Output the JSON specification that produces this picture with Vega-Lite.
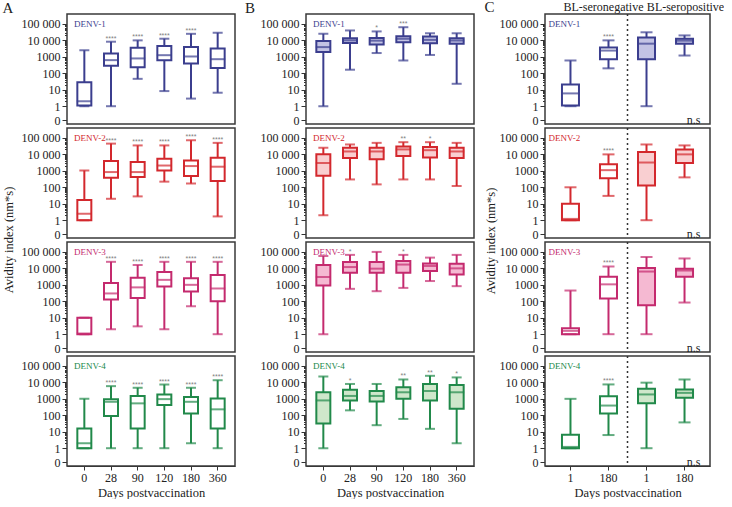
{
  "$schema": "https://vega.github.io/schema/vega-lite/v6.json",
  "padding": {"left": 2, "top": 0, "right": 0, "bottom": 0},
  "spacing": 9,
  "datasets": {
    "A": [
      {"virus": "DENV-1", "day": 0, "min": 1, "q1": 1.1, "median": 2, "q3": 29, "max": 2500, "sig": ""},
      {"virus": "DENV-1", "day": 28, "min": 1, "q1": 290, "median": 630, "q3": 1600, "max": 8300, "sig": "****"},
      {"virus": "DENV-1", "day": 90, "min": 46, "q1": 230, "median": 800, "q3": 3600, "max": 10000, "sig": "****"},
      {"virus": "DENV-1", "day": 120, "min": 8.3, "q1": 630, "median": 1260, "q3": 4600, "max": 12600, "sig": "****"},
      {"virus": "DENV-1", "day": 180, "min": 2.9, "q1": 400, "median": 1050, "q3": 4000, "max": 25000, "sig": "****"},
      {"virus": "DENV-1", "day": 360, "min": 6.6, "q1": 210, "median": 720, "q3": 3200, "max": 29000, "sig": ""},
      {"virus": "DENV-2", "day": 0, "min": 1, "q1": 1, "median": 2.5, "q3": 17, "max": 1050, "sig": ""},
      {"virus": "DENV-2", "day": 28, "min": 20, "q1": 380, "median": 840, "q3": 3900, "max": 45000, "sig": "****"},
      {"virus": "DENV-2", "day": 90, "min": 28, "q1": 420, "median": 840, "q3": 3400, "max": 35000, "sig": "****"},
      {"virus": "DENV-2", "day": 120, "min": 220, "q1": 1050, "median": 2100, "q3": 5400, "max": 35000, "sig": "****"},
      {"virus": "DENV-2", "day": 180, "min": 170, "q1": 480, "median": 1950, "q3": 4300, "max": 72000, "sig": "****"},
      {"virus": "DENV-2", "day": 360, "min": 1.7, "q1": 240, "median": 1780, "q3": 6200, "max": 50000, "sig": "****"},
      {"virus": "DENV-3", "day": 0, "min": 1, "q1": 1, "median": 1.1, "q3": 10, "max": 10, "sig": ""},
      {"virus": "DENV-3", "day": 28, "min": 2, "q1": 130, "median": 300, "q3": 1300, "max": 25000, "sig": "****"},
      {"virus": "DENV-3", "day": 90, "min": 3, "q1": 160, "median": 700, "q3": 2700, "max": 16000, "sig": "****"},
      {"virus": "DENV-3", "day": 120, "min": 2, "q1": 800, "median": 2000, "q3": 6000, "max": 25000, "sig": "****"},
      {"virus": "DENV-3", "day": 180, "min": 50, "q1": 400, "median": 1000, "q3": 2500, "max": 25000, "sig": "****"},
      {"virus": "DENV-3", "day": 360, "min": 1, "q1": 100, "median": 600, "q3": 4000, "max": 25000, "sig": "****"},
      {"virus": "DENV-4", "day": 0, "min": 1, "q1": 1, "median": 2, "q3": 16, "max": 1000, "sig": ""},
      {"virus": "DENV-4", "day": 28, "min": 1, "q1": 90, "median": 660, "q3": 950, "max": 5900, "sig": "****"},
      {"virus": "DENV-4", "day": 90, "min": 1, "q1": 16, "median": 530, "q3": 1500, "max": 4700, "sig": "****"},
      {"virus": "DENV-4", "day": 120, "min": 1, "q1": 420, "median": 960, "q3": 1850, "max": 7400, "sig": "****"},
      {"virus": "DENV-4", "day": 180, "min": 2, "q1": 130, "median": 660, "q3": 1300, "max": 4700, "sig": "****"},
      {"virus": "DENV-4", "day": 360, "min": 1, "q1": 16, "median": 230, "q3": 1050, "max": 13500, "sig": "****"}
    ],
    "B": [
      {"virus": "DENV-1", "day": 0, "min": 1, "q1": 1950, "median": 3900, "q3": 9000, "max": 25000, "sig": ""},
      {"virus": "DENV-1", "day": 28, "min": 165, "q1": 7000, "median": 10000, "q3": 13500, "max": 40000, "sig": ""},
      {"virus": "DENV-1", "day": 90, "min": 1700, "q1": 5600, "median": 9600, "q3": 14000, "max": 35000, "sig": "*"},
      {"virus": "DENV-1", "day": 120, "min": 600, "q1": 7800, "median": 12500, "q3": 18000, "max": 63000, "sig": "***"},
      {"virus": "DENV-1", "day": 180, "min": 1300, "q1": 6800, "median": 10700, "q3": 17000, "max": 27000, "sig": ""},
      {"virus": "DENV-1", "day": 360, "min": 23, "q1": 6300, "median": 9800, "q3": 13500, "max": 27000, "sig": ""},
      {"virus": "DENV-2", "day": 0, "min": 2, "q1": 500, "median": 3000, "q3": 10000, "max": 25000, "sig": ""},
      {"virus": "DENV-2", "day": 28, "min": 300, "q1": 6000, "median": 15000, "q3": 25000, "max": 40000, "sig": ""},
      {"virus": "DENV-2", "day": 90, "min": 150, "q1": 5000, "median": 15000, "q3": 25000, "max": 50000, "sig": ""},
      {"virus": "DENV-2", "day": 120, "min": 300, "q1": 8000, "median": 20000, "q3": 30000, "max": 55000, "sig": "**"},
      {"virus": "DENV-2", "day": 180, "min": 300, "q1": 6500, "median": 18000, "q3": 28000, "max": 55000, "sig": "*"},
      {"virus": "DENV-2", "day": 360, "min": 120, "q1": 6000, "median": 15000, "q3": 25000, "max": 50000, "sig": ""},
      {"virus": "DENV-3", "day": 0, "min": 1, "q1": 900, "median": 3000, "q3": 16000, "max": 56000, "sig": ""},
      {"virus": "DENV-3", "day": 28, "min": 570, "q1": 5400, "median": 12000, "q3": 24000, "max": 66000, "sig": "*"},
      {"virus": "DENV-3", "day": 90, "min": 410, "q1": 5400, "median": 9600, "q3": 24000, "max": 100000, "sig": ""},
      {"virus": "DENV-3", "day": 120, "min": 650, "q1": 5400, "median": 17000, "q3": 28000, "max": 66000, "sig": "*"},
      {"virus": "DENV-3", "day": 180, "min": 1700, "q1": 6900, "median": 14000, "q3": 20000, "max": 45000, "sig": ""},
      {"virus": "DENV-3", "day": 360, "min": 830, "q1": 4300, "median": 10000, "q3": 19000, "max": 66000, "sig": ""},
      {"virus": "DENV-4", "day": 0, "min": 1, "q1": 32, "median": 800, "q3": 2500, "max": 23000, "sig": ""},
      {"virus": "DENV-4", "day": 28, "min": 200, "q1": 800, "median": 1500, "q3": 3500, "max": 8000, "sig": "*"},
      {"virus": "DENV-4", "day": 90, "min": 25, "q1": 700, "median": 1500, "q3": 3000, "max": 8000, "sig": ""},
      {"virus": "DENV-4", "day": 120, "min": 60, "q1": 1000, "median": 2500, "q3": 5000, "max": 15000, "sig": "**"},
      {"virus": "DENV-4", "day": 180, "min": 15, "q1": 800, "median": 3000, "q3": 8000, "max": 25000, "sig": "**"},
      {"virus": "DENV-4", "day": 360, "min": 2, "q1": 250, "median": 2500, "q3": 7000, "max": 20000, "sig": "*"}
    ],
    "C": [
      {"virus": "DENV-1", "cat": "neg 1", "min": 1, "q1": 1.1, "median": 6, "q3": 21, "max": 600, "sig": ""},
      {"virus": "DENV-1", "cat": "neg 180", "min": 200, "q1": 720, "median": 2400, "q3": 3700, "max": 10000, "sig": "****"},
      {"virus": "DENV-1", "cat": "pos 1", "min": 1, "q1": 720, "median": 6300, "q3": 15000, "max": 31000, "sig": ""},
      {"virus": "DENV-1", "cat": "pos 180", "min": 1200, "q1": 6300, "median": 9600, "q3": 12600, "max": 20000, "sig": ""},
      {"virus": "DENV-2", "cat": "neg 1", "min": 1, "q1": 1, "median": 1.2, "q3": 10, "max": 100, "sig": ""},
      {"virus": "DENV-2", "cat": "neg 180", "min": 30, "q1": 350, "median": 1100, "q3": 2500, "max": 10000, "sig": "****"},
      {"virus": "DENV-2", "cat": "pos 1", "min": 1, "q1": 130, "median": 3200, "q3": 14000, "max": 40000, "sig": ""},
      {"virus": "DENV-2", "cat": "pos 180", "min": 400, "q1": 3000, "median": 10000, "q3": 20000, "max": 35000, "sig": ""},
      {"virus": "DENV-3", "cat": "neg 1", "min": 1, "q1": 1, "median": 1.6, "q3": 2.3, "max": 450, "sig": ""},
      {"virus": "DENV-3", "cat": "neg 180", "min": 1, "q1": 150, "median": 1070, "q3": 3100, "max": 13000, "sig": "****"},
      {"virus": "DENV-3", "cat": "pos 1", "min": 1, "q1": 57, "median": 6400, "q3": 10400, "max": 49000, "sig": ""},
      {"virus": "DENV-3", "cat": "pos 180", "min": 84, "q1": 3100, "median": 7400, "q3": 9400, "max": 40000, "sig": ""},
      {"virus": "DENV-4", "cat": "neg 1", "min": 1, "q1": 1, "median": 1.2, "q3": 6.6, "max": 1000, "sig": ""},
      {"virus": "DENV-4", "cat": "neg 180", "min": 6.3, "q1": 130, "median": 390, "q3": 1450, "max": 7500, "sig": "****"},
      {"virus": "DENV-4", "cat": "pos 1", "min": 1, "q1": 540, "median": 1850, "q3": 4100, "max": 9600, "sig": ""},
      {"virus": "DENV-4", "cat": "pos 180", "min": 37, "q1": 1150, "median": 2300, "q3": 3700, "max": 15000, "sig": ""}
    ]
  },
  "hconcat": [
    {
      "data": {"name": "A"},
      "title": {"text": "A", "anchor": "start", "frame": "bounds", "offset": -3},
      "facet": {"row": {"field": "virus", "type": "nominal", "title": "Avidity index (nm*s)", "header": {"labels": false, "titlePadding": -4}}},
      "spacing": 4,
      "bounds": "flush",
      "spec": {
        "width": 168, "height": 110,
        "layer": [
          {"mark": {"type": "rule", "strokeWidth": 2},
           "encoding": {
             "x": {"field": "day", "type": "ordinal", "title": "Days postvaccination",
               "scale": {"domain": [0, 28, 90, 120, 180, 360], "paddingInner": 0, "paddingOuter": 0.15},
               "axis": {"orient": "bottom", "title": "Days postvaccination", "labelFont": "Liberation Serif", "titleFont": "Liberation Serif"}},
             "y": {"field": "min", "type": "quantitative", "title": null,
               "scale": {"type": "log", "domain": [0.083, 400000], "nice": false},
               "axis": {"labelFont": "Liberation Serif", "values": [0.145, 1, 2, 3, 4, 5, 6, 7, 8, 9, 10, 20, 30, 40, 50, 60, 70, 80, 90, 100, 200, 300, 400, 500, 600, 700, 800, 900, 1000, 2000, 3000, 4000, 5000, 6000, 7000, 8000, 9000, 10000, 20000, 30000, 40000, 50000, 60000, 70000, 80000, 90000, 100000],
                 "labelExpr": "datum.value < 0.5 ? '0' : datum.value == 100000 ? '100 000' : datum.value == 10000 ? '10 000' : datum.value == 1000 ? '1000' : datum.value == 100 ? '100' : datum.value == 10 ? '10' : datum.value == 1 ? '1' : ''",
                 "tickSize": {"condition": {"test": "datum.value < 0.5 || indexof([1, 10, 100, 1000, 10000, 100000], datum.value) >= 0", "value": 5}, "value": 2.5}}},
             "y2": {"field": "max"},
             "stroke": {"field": "virus", "type": "nominal", "legend": null, "scale": {"domain": ["DENV-1", "DENV-2", "DENV-3", "DENV-4"], "range": ["#3b3e8e", "#d3282d", "#c42a6e", "#21894a"]}}
           }},
          {"mark": {"type": "bar", "size": 14, "strokeWidth": 2},
           "encoding": {
             "x": {"field": "day", "type": "ordinal", "axis": null},
             "y": {"field": "q1", "type": "quantitative", "title": null},
             "y2": {"field": "q3"},
             "stroke": {"field": "virus", "type": "nominal", "legend": null},
             "fill": {"value": "white"}
           }},
          {"mark": {"type": "tick", "size": 10, "thickness": 2},
           "encoding": {"x": {"field": "day", "type": "ordinal", "axis": null},
             "y": {"field": "max", "type": "quantitative", "title": null},
             "color": {"field": "virus", "type": "nominal", "legend": null, "scale": {"domain": ["DENV-1", "DENV-2", "DENV-3", "DENV-4"], "range": ["#3b3e8e", "#d3282d", "#c42a6e", "#21894a"]}}}},
          {"mark": {"type": "tick", "size": 10, "thickness": 2},
           "encoding": {"x": {"field": "day", "type": "ordinal", "axis": null},
             "y": {"field": "min", "type": "quantitative", "title": null},
             "color": {"field": "virus", "type": "nominal", "legend": null}}},
          {"mark": {"type": "tick", "size": 15, "thickness": 2},
           "encoding": {"x": {"field": "day", "type": "ordinal", "axis": null},
             "y": {"field": "median", "type": "quantitative", "title": null},
             "color": {"field": "virus", "type": "nominal", "legend": null}}},
          {"mark": {"type": "text", "font": "Liberation Sans", "fontSize": 7, "color": "#808080", "baseline": "alphabetic", "dy": -1},
           "encoding": {"x": {"field": "day", "type": "ordinal", "axis": null},
             "y": {"field": "max", "type": "quantitative", "title": null}, "text": {"field": "sig"}}},
          {"transform": [{"filter": "datum.day == 0"}],
           "mark": {"type": "text", "align": "left", "baseline": "middle", "fontSize": 9, "font": "Liberation Serif", "dx": 3},
           "encoding": {
             "x": {"field": "day", "type": "ordinal", "bandPosition": 0, "axis": {"orient": "top", "labels": false, "ticks": false, "domain": false, "title": null}},
             "y": {"datum": 100000, "type": "quantitative"},
             "text": {"field": "virus"},
             "color": {"field": "virus", "type": "nominal", "legend": null}}}
        ]
      }
    },
    {
      "data": {"name": "B"},
      "title": {"text": "B", "anchor": "start", "frame": "bounds", "offset": -3, "dx": -15},
      "facet": {"row": {"field": "virus", "type": "nominal", "title": null, "header": {"labels": false}}},
      "spacing": 4,
      "bounds": "flush",
      "spec": {
        "width": 168, "height": 110,
        "layer": [
          {"mark": {"type": "rule", "strokeWidth": 2},
           "encoding": {
             "x": {"field": "day", "type": "ordinal", "title": "Days postvaccination",
               "scale": {"domain": [0, 28, 90, 120, 180, 360], "paddingInner": 0, "paddingOuter": 0.15},
               "axis": {"orient": "bottom", "title": "Days postvaccination", "labelFont": "Liberation Serif", "titleFont": "Liberation Serif"}},
             "y": {"field": "min", "type": "quantitative", "title": null,
               "scale": {"type": "log", "domain": [0.083, 400000], "nice": false},
               "axis": {"labelFont": "Liberation Serif", "values": [0.145, 1, 2, 3, 4, 5, 6, 7, 8, 9, 10, 20, 30, 40, 50, 60, 70, 80, 90, 100, 200, 300, 400, 500, 600, 700, 800, 900, 1000, 2000, 3000, 4000, 5000, 6000, 7000, 8000, 9000, 10000, 20000, 30000, 40000, 50000, 60000, 70000, 80000, 90000, 100000],
                 "labelExpr": "datum.value < 0.5 ? '0' : datum.value == 100000 ? '100 000' : datum.value == 10000 ? '10 000' : datum.value == 1000 ? '1000' : datum.value == 100 ? '100' : datum.value == 10 ? '10' : datum.value == 1 ? '1' : ''",
                 "tickSize": {"condition": {"test": "datum.value < 0.5 || indexof([1, 10, 100, 1000, 10000, 100000], datum.value) >= 0", "value": 5}, "value": 2.5}}},
             "y2": {"field": "max"},
             "stroke": {"field": "virus", "type": "nominal", "legend": null, "scale": {"domain": ["DENV-1", "DENV-2", "DENV-3", "DENV-4"], "range": ["#3b3e8e", "#d3282d", "#c42a6e", "#21894a"]}}
           }},
          {"mark": {"type": "bar", "size": 14, "strokeWidth": 2},
           "encoding": {
             "x": {"field": "day", "type": "ordinal", "axis": null},
             "y": {"field": "q1", "type": "quantitative", "title": null},
             "y2": {"field": "q3"},
             "stroke": {"field": "virus", "type": "nominal", "legend": null},
             "fill": {"field": "virus", "type": "nominal", "legend": null, "scale": {"domain": ["DENV-1", "DENV-2", "DENV-3", "DENV-4"], "range": ["#c3c3e4", "#f9cfd1", "#f5b9d2", "#cfe7cb"]}}
           }},
          {"mark": {"type": "tick", "size": 10, "thickness": 2},
           "encoding": {"x": {"field": "day", "type": "ordinal", "axis": null},
             "y": {"field": "max", "type": "quantitative", "title": null},
             "color": {"field": "virus", "type": "nominal", "legend": null, "scale": {"domain": ["DENV-1", "DENV-2", "DENV-3", "DENV-4"], "range": ["#3b3e8e", "#d3282d", "#c42a6e", "#21894a"]}}}},
          {"mark": {"type": "tick", "size": 10, "thickness": 2},
           "encoding": {"x": {"field": "day", "type": "ordinal", "axis": null},
             "y": {"field": "min", "type": "quantitative", "title": null},
             "color": {"field": "virus", "type": "nominal", "legend": null}}},
          {"mark": {"type": "tick", "size": 15, "thickness": 2},
           "encoding": {"x": {"field": "day", "type": "ordinal", "axis": null},
             "y": {"field": "median", "type": "quantitative", "title": null},
             "color": {"field": "virus", "type": "nominal", "legend": null}}},
          {"mark": {"type": "text", "font": "Liberation Sans", "fontSize": 7, "color": "#808080", "baseline": "alphabetic", "dy": -1},
           "encoding": {"x": {"field": "day", "type": "ordinal", "axis": null},
             "y": {"field": "max", "type": "quantitative", "title": null}, "text": {"field": "sig"}}},
          {"transform": [{"filter": "datum.day == 0"}],
           "mark": {"type": "text", "align": "left", "baseline": "middle", "fontSize": 9, "font": "Liberation Serif", "dx": 3},
           "encoding": {
             "x": {"field": "day", "type": "ordinal", "bandPosition": 0, "axis": {"orient": "top", "labels": false, "ticks": false, "domain": false, "title": null}},
             "y": {"datum": 100000, "type": "quantitative"},
             "text": {"field": "virus"},
             "color": {"field": "virus", "type": "nominal", "legend": null}}}
        ]
      }
    },
    {
      "data": {"name": "C"},
      "title": {"text": "C", "anchor": "start", "frame": "bounds", "offset": -15},
      "facet": {"row": {"field": "virus", "type": "nominal", "title": "Avidity index (nm*s)", "header": {"labels": false, "titlePadding": -8}}},
      "spacing": 4,
      "bounds": "flush",
      "spec": {
        "width": 165, "height": 110,
        "layer": [
          {"mark": {"type": "rule", "strokeWidth": 2},
           "encoding": {
             "x": {"field": "cat", "type": "nominal", "title": "Days postvaccination",
               "scale": {"domain": ["neg 1", "neg 180", "pos 1", "pos 180"], "paddingInner": 0, "paddingOuter": 0.17},
               "axis": {"orient": "bottom", "title": "Days postvaccination", "labelExpr": "split(datum.value, ' ')[1]", "labelFont": "Liberation Serif", "titleFont": "Liberation Serif"}},
             "y": {"field": "min", "type": "quantitative", "title": null,
               "scale": {"type": "log", "domain": [0.083, 400000], "nice": false},
               "axis": {"labelFont": "Liberation Serif", "values": [0.145, 1, 2, 3, 4, 5, 6, 7, 8, 9, 10, 20, 30, 40, 50, 60, 70, 80, 90, 100, 200, 300, 400, 500, 600, 700, 800, 900, 1000, 2000, 3000, 4000, 5000, 6000, 7000, 8000, 9000, 10000, 20000, 30000, 40000, 50000, 60000, 70000, 80000, 90000, 100000],
                 "labelExpr": "datum.value < 0.5 ? '0' : datum.value == 100000 ? '100 000' : datum.value == 10000 ? '10 000' : datum.value == 1000 ? '1000' : datum.value == 100 ? '100' : datum.value == 10 ? '10' : datum.value == 1 ? '1' : ''",
                 "tickSize": {"condition": {"test": "datum.value < 0.5 || indexof([1, 10, 100, 1000, 10000, 100000], datum.value) >= 0", "value": 5}, "value": 2.5}}},
             "y2": {"field": "max"},
             "stroke": {"field": "virus", "type": "nominal", "legend": null, "scale": {"domain": ["DENV-1", "DENV-2", "DENV-3", "DENV-4"], "range": ["#3b3e8e", "#d3282d", "#c42a6e", "#21894a"]}}
           }},
          {"mark": {"type": "bar", "size": 17, "strokeWidth": 2},
           "encoding": {
             "x": {"field": "cat", "type": "nominal", "axis": null},
             "y": {"field": "q1", "type": "quantitative", "title": null},
             "y2": {"field": "q3"},
             "stroke": {"field": "virus", "type": "nominal", "legend": null},
             "fill": {"condition": {"test": "indexof(datum.cat, 'pos') == 0", "field": "virus", "type": "nominal", "legend": null, "scale": {"domain": ["DENV-1", "DENV-2", "DENV-3", "DENV-4"], "range": ["#c3c3e4", "#f9cfd1", "#f5b9d2", "#cfe7cb"]}}, "value": "white"}
           }},
          {"mark": {"type": "tick", "size": 12, "thickness": 2},
           "encoding": {"x": {"field": "cat", "type": "nominal", "axis": null},
             "y": {"field": "max", "type": "quantitative", "title": null},
             "color": {"field": "virus", "type": "nominal", "legend": null, "scale": {"domain": ["DENV-1", "DENV-2", "DENV-3", "DENV-4"], "range": ["#3b3e8e", "#d3282d", "#c42a6e", "#21894a"]}}}},
          {"mark": {"type": "tick", "size": 12, "thickness": 2},
           "encoding": {"x": {"field": "cat", "type": "nominal", "axis": null},
             "y": {"field": "min", "type": "quantitative", "title": null},
             "color": {"field": "virus", "type": "nominal", "legend": null}}},
          {"mark": {"type": "tick", "size": 18, "thickness": 2},
           "encoding": {"x": {"field": "cat", "type": "nominal", "axis": null},
             "y": {"field": "median", "type": "quantitative", "title": null},
             "color": {"field": "virus", "type": "nominal", "legend": null}}},
          {"mark": {"type": "text", "font": "Liberation Sans", "fontSize": 7, "color": "#808080", "baseline": "alphabetic", "dy": -1},
           "encoding": {"x": {"field": "cat", "type": "nominal", "axis": null},
             "y": {"field": "max", "type": "quantitative", "title": null}, "text": {"field": "sig"}}},
          {"transform": [{"filter": "datum.cat == 'neg 1'"}],
           "mark": {"type": "text", "align": "left", "baseline": "middle", "fontSize": 9, "font": "Liberation Serif", "dx": -3},
           "encoding": {
             "x": {"field": "cat", "type": "nominal", "bandPosition": 0, "axis": null},
             "y": {"datum": 100000, "type": "quantitative"},
             "text": {"field": "virus"},
             "color": {"field": "virus", "type": "nominal", "legend": null}}},
          {"transform": [{"filter": "datum.cat == 'pos 1'"}],
           "mark": {"type": "rule", "strokeWidth": 1.5, "strokeDash": [2, 3], "color": "#333"},
           "encoding": {"x": {"field": "cat", "type": "nominal", "bandPosition": 0,
             "axis": {"orient": "top", "values": ["neg 180", "pos 180"], "bandPosition": 0, "ticks": false, "domain": false, "title": null, "labelPadding": 1, "labelFontSize": 12, "labelFont": "Liberation Serif",
               "labelOffset": {"condition": {"test": "datum.value == 'neg 180'", "value": -5}, "value": 1},
               "labelExpr": "datum.value == 'neg 180' ? 'BL-seronegative' : 'BL-seropositive'"}}}},
          {"transform": [{"filter": "datum.cat == 'pos 180'"}],
           "mark": {"type": "text", "align": "center", "baseline": "middle", "fontSize": 12, "font": "Liberation Serif", "dx": 9, "color": "#222"},
           "encoding": {
             "x": {"field": "cat", "type": "nominal", "axis": null},
             "y": {"datum": 0.145, "type": "quantitative"},
             "text": {"value": "n.s"}}}
        ]
      }
    }
  ],
  "config": {
    "view": {"stroke": "#3a3a3a", "strokeWidth": 1.5, "fill": "white"},
    "font": "Liberation Serif",
    "text": {"font": "Liberation Serif"},
    "title": {"font": "Liberation Serif", "fontSize": 15, "fontWeight": "normal", "color": "#222"},
    "axis": {"labelFont": "Liberation Serif", "labelFontSize": 12, "labelColor": "#222", "titleFont": "Liberation Serif", "titleFontSize": 12.5, "titleFontWeight": "normal", "titleColor": "#222", "domainColor": "#333", "tickColor": "#333", "grid": false, "labelOverlap": false},
    "axisX": {"labelAngle": 0, "tickSize": 4, "labelPadding": 2, "titlePadding": 3},
    "axisY": {"labelPadding": 2},
    "header": {"titleFont": "Liberation Serif", "titleFontSize": 12.5, "titleFontWeight": "normal", "titleColor": "#222", "titleOrient": "left", "labelPadding": 0}
  }
}
